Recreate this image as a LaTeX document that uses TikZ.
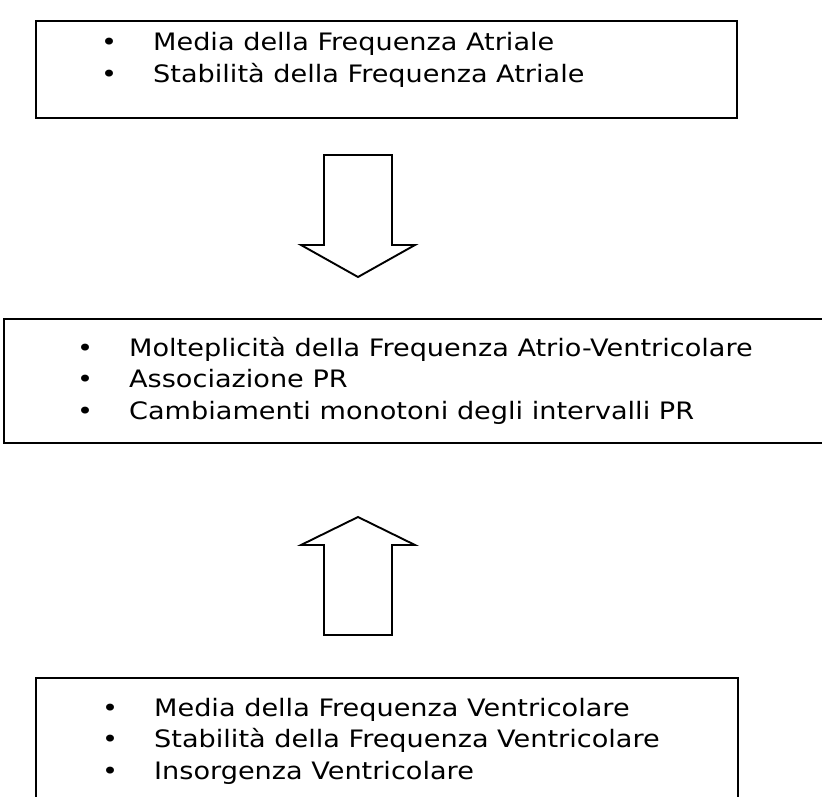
\documentclass[tikz,border=0pt]{standalone}
\usepackage{fontspec}
\setmainfont{DejaVu Sans}[FakeStretch=1.13]
\usetikzlibrary{calc,positioning}

\begin{document}
\begin{tikzpicture}[x=1pt,y=-1pt]
    \tikzset{panel/.style={draw,line width=1.9pt,anchor=north west,inner sep=0pt},
      itemlist/.style={anchor=base west,inner sep=0pt,font=\fontsize{24}{31.5}\selectfont},
      blockarrow/.style={draw,line width=1.9pt,line join=miter}}
    \useasboundingbox (0,0) rectangle (822,797);
    % three boxes
    \node[panel,minimum width=701,minimum height=97] (atr) at (35,20) {};
    \node[panel,minimum width=830,minimum height=124] (av) at (3,318) {};
    \node[panel,minimum width=702,minimum height=140] (ven) at (35,677) {};
    \node[itemlist] (atrtext) at ($(atr.north west)+(66,31)$) {\begin{tabular}[t]{@{}l@{\hspace{36pt}}l@{}}
      \textbullet & Media della Frequenza Atriale\\
      \textbullet & Stabilità della Frequenza Atriale\end{tabular}};
    \node[itemlist] (avtext) at ($(av.north west)+(74,38)$) {\begin{tabular}[t]{@{}l@{\hspace{36pt}}l@{}}
      \textbullet & Molteplicità della Frequenza Atrio-Ventricolare\\
      \textbullet & Associazione PR\\
      \textbullet & Cambiamenti monotoni degli intervalli PR\end{tabular}};
    \node[itemlist] (ventext) at ($(ven.north west)+(67,39)$) {\begin{tabular}[t]{@{}l@{\hspace{36pt}}l@{}}
      \textbullet & Media della Frequenza Ventricolare\\
      \textbullet & Stabilità della Frequenza Ventricolare\\
      \textbullet & Insorgenza Ventricolare\end{tabular}};
    % block arrows
    \draw[blockarrow] (324,155) -- (392,155) -- (392,245) -- (415,245) -- (358,277)
      -- (301,245) -- (324,245) -- cycle;
    \draw[blockarrow] (324,635) -- (392,635) -- (392,545) -- (415,545) -- (358,517)
      -- (301,545) -- (324,545) -- cycle;
\end{tikzpicture}
\end{document}
